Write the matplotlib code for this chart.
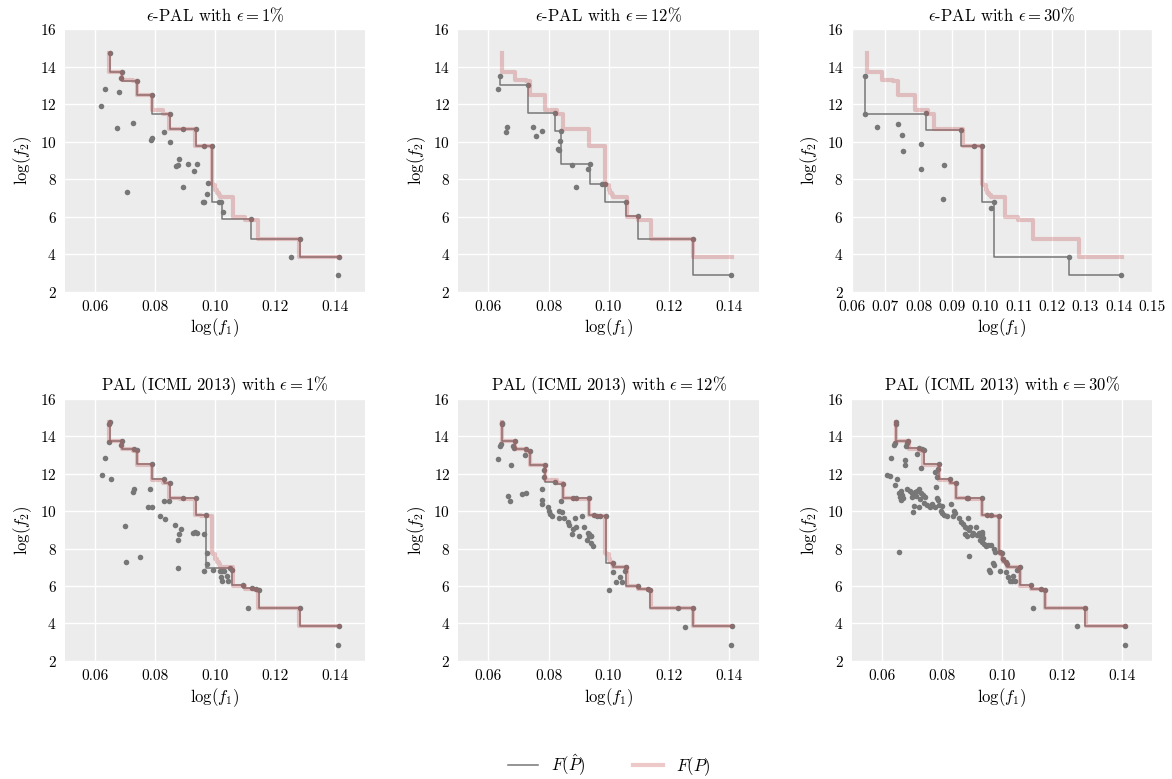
import matplotlib
matplotlib.use("Agg")
import matplotlib.pyplot as plt
from matplotlib.lines import Line2D

plt.rcParams['font.family'] = 'serif'
plt.rcParams['font.serif'] = ['cmr10', 'DejaVu Serif']
plt.rcParams['mathtext.fontset'] = 'cm'
plt.rcParams['axes.formatter.use_mathtext'] = True

# ---------------- data ----------------
# true Pareto front F(P)
true_x = [0.0646, 0.0690, 0.0725, 0.0738, 0.0789, 0.0827, 0.0847, 0.0882, 0.0934, 0.0952, 0.0965,
          0.0989, 0.0992, 0.1001, 0.1005, 0.1012, 0.1016, 0.1060, 0.1098, 0.1131, 0.1142, 0.1230,
          0.1280, 0.1411]
true_y = [14.75, 13.72, 13.30, 13.22, 12.48, 11.67, 11.47, 10.67, 10.66, 9.77, 9.76, 9.75, 7.77,
          7.72, 7.42, 7.28, 7.16, 7.03, 6.00, 5.83, 5.80, 4.83, 4.81, 3.86]

# eps-PAL eps=1%
s1_x = [0.0650, 0.0691, 0.0685, 0.0740, 0.0791, 0.0850, 0.0892, 0.0936, 0.0964, 0.0989, 0.1013,
        0.1018, 0.1025, 0.1120, 0.1281, 0.1411, 0.0634, 0.0679, 0.0620, 0.0673, 0.0727, 0.0787,
        0.0791, 0.0830, 0.0848, 0.0881, 0.0877, 0.0870, 0.0908, 0.0938, 0.0929, 0.0894, 0.0977,
        0.0973, 0.0958, 0.0963, 0.0705, 0.1253, 0.1409]
s1_y = [14.72, 13.72, 13.38, 13.24, 12.48, 11.48, 10.68, 10.68, 9.75, 9.75, 6.77, 6.77, 6.24, 5.87,
        4.83, 3.86, 12.82, 12.66, 11.92, 10.75, 11.00, 10.12, 10.21, 10.53, 9.98, 9.08, 8.74, 8.69,
        8.83, 8.83, 8.44, 7.60, 7.81, 7.21, 6.80, 6.77, 7.30, 3.84, 2.87]
e1_x = [0.0650, 0.0691, 0.0740, 0.0791, 0.0850, 0.0892, 0.0936, 0.0964, 0.0989, 0.1022, 0.1120,
        0.1281, 0.1411]
e1_y = [14.72, 13.72, 13.24, 12.48, 11.48, 10.68, 10.68, 9.75, 9.75, 6.77, 5.87, 4.83, 3.86]

# eps-PAL eps=12%
s2_x = [0.0640, 0.0633, 0.0733, 0.0661, 0.0660, 0.0749, 0.0760, 0.0777, 0.0823, 0.0843, 0.0838,
        0.0833, 0.0836, 0.0879, 0.0937, 0.0930, 0.0891, 0.0978, 0.0989, 0.1058, 0.1098, 0.1281,
        0.1409]
s2_y = [13.51, 12.82, 13.01, 10.81, 10.54, 10.81, 10.30, 10.58, 11.53, 10.56, 10.03, 9.63, 9.56,
        8.76, 8.83, 8.53, 7.60, 7.74, 7.77, 6.80, 6.03, 4.83, 2.87]
e2_x = [0.0640, 0.0733, 0.0823, 0.0843, 0.0937, 0.0989, 0.1058, 0.1098, 0.1281, 0.1409]
e2_y = [13.51, 13.01, 11.53, 10.56, 8.83, 7.77, 6.80, 6.03, 4.83, 2.87]

# eps-PAL eps=30%
s3_x = [0.0640, 0.0640, 0.0677, 0.0739, 0.0749, 0.0752, 0.0822, 0.0807, 0.0806, 0.0877, 0.0872,
        0.0927, 0.0966, 0.0989, 0.1025, 0.1016, 0.1252, 0.1406]
s3_y = [13.51, 11.46, 10.77, 10.95, 10.38, 9.52, 11.53, 9.87, 8.57, 8.78, 6.95, 10.63, 9.77, 9.77,
        6.79, 6.45, 3.84, 2.87]
e3_x = [0.0640, 0.0822, 0.0927, 0.0989, 0.1025, 0.1252, 0.1406]
e3_y = [13.51, 11.50, 10.63, 9.77, 6.79, 3.84, 2.87]

# PAL eps=1%
s4_x = [0.0650, 0.0648, 0.0647, 0.0691, 0.0685, 0.0729, 0.0741, 0.0634, 0.0791, 0.0622, 0.0654,
        0.0831, 0.0850, 0.0729, 0.0727, 0.0782, 0.0830, 0.0845, 0.0892, 0.0936, 0.0776, 0.0790,
        0.0815, 0.0834, 0.0699, 0.0865, 0.0885, 0.0881, 0.0876, 0.0927, 0.0932, 0.0939, 0.0962,
        0.0969, 0.0974, 0.0973, 0.0751, 0.0703, 0.0875, 0.0962, 0.0993, 0.1015, 0.1022, 0.1028,
        0.1048, 0.1057, 0.1018, 0.1024, 0.1039, 0.1044, 0.1092, 0.1121, 0.1136, 0.1147, 0.1108,
        0.1281, 0.1411, 0.1409]
s4_y = [14.74, 14.64, 13.68, 13.72, 13.54, 13.33, 13.26, 12.83, 12.50, 11.90, 11.70, 11.69, 11.49,
        11.19, 11.01, 11.17, 10.54, 10.56, 10.70, 10.70, 10.24, 10.20, 9.71, 9.58, 9.19, 9.28, 9.04,
        8.77, 8.47, 8.82, 8.86, 8.84, 8.77, 9.78, 7.78, 7.20, 7.57, 7.30, 6.97, 6.79, 6.83, 6.81,
        6.81, 6.81, 6.97, 6.83, 6.47, 6.24, 6.53, 6.24, 6.03, 5.89, 5.82, 5.78, 4.85, 4.83, 3.86,
        2.85]
e4_x = [0.0650, 0.0691, 0.0729, 0.0741, 0.0791, 0.0831, 0.0850, 0.0892, 0.0936, 0.0969, 0.1048,
        0.1057, 0.1092, 0.1121, 0.1136, 0.1147, 0.1281, 0.1411]
e4_y = [14.74, 13.72, 13.33, 13.26, 12.50, 11.69, 11.49, 10.70, 10.70, 9.78, 6.97, 6.83, 6.03, 5.89,
        5.82, 5.78, 4.83, 3.86]

# PAL eps=12%
s5_x = [0.0646, 0.0645, 0.0642, 0.0640, 0.0688, 0.0683, 0.0686, 0.0633, 0.0675, 0.0726, 0.0738,
        0.0721, 0.0788, 0.0786, 0.0785, 0.0778, 0.0822, 0.0848, 0.0665, 0.0671, 0.0711, 0.0725,
        0.0777, 0.0778, 0.0843, 0.0880, 0.0890, 0.0935, 0.0798, 0.0800, 0.0805, 0.0812, 0.0836,
        0.0846, 0.0835, 0.0851, 0.0887, 0.0910, 0.0865, 0.0869, 0.0882, 0.0893, 0.0917, 0.0879,
        0.0901, 0.0930, 0.0935, 0.0941, 0.0935, 0.0941, 0.0929, 0.0943, 0.0948, 0.0952, 0.0963,
        0.0971, 0.0990, 0.1015, 0.1015, 0.1024, 0.1044, 0.1038, 0.1054, 0.1059, 0.1002, 0.1098,
        0.1131, 0.1139, 0.1231, 0.1280, 0.1255, 0.1411, 0.1409]
s5_y = [14.71, 14.62, 13.59, 13.47, 13.72, 13.47, 13.37, 12.80, 12.43, 13.31, 13.22, 12.99, 12.47,
        12.18, 11.83, 11.16, 11.53, 11.44, 10.81, 10.54, 10.91, 10.98, 10.60, 10.37, 10.54, 10.67,
        10.67, 10.67, 10.24, 9.98, 9.86, 9.71, 10.01, 9.93, 9.64, 9.63, 9.64, 9.71, 9.40, 9.27, 9.04,
        9.13, 9.13, 8.76, 8.69, 8.83, 8.78, 8.69, 8.66, 8.66, 8.43, 8.30, 8.16, 9.77, 9.75, 9.75,
        9.73, 7.25, 6.77, 6.22, 6.22, 6.50, 6.80, 7.02, 5.76, 6.01, 5.83, 5.80, 4.83, 4.81, 3.81,
        3.86, 2.84]
e5_x = [0.0646, 0.0688, 0.0726, 0.0738, 0.0788, 0.0822, 0.0848, 0.0880, 0.0890, 0.0935, 0.0952,
        0.0963, 0.0971, 0.0990, 0.1015, 0.1059, 0.1098, 0.1131, 0.1139, 0.1231, 0.1280, 0.1411]
e5_y = [14.71, 13.72, 13.31, 13.22, 12.47, 11.53, 11.44, 10.67, 10.67, 10.67, 9.77, 9.75, 9.75,
        9.73, 7.25, 7.02, 6.01, 5.83, 5.80, 4.83, 4.81, 3.86]

# PAL eps=30%
s6_x = [0.0648, 0.0647, 0.0644, 0.0641, 0.0688, 0.0685, 0.0682, 0.0723, 0.0733, 0.0739, 0.0717,
        0.0731, 0.0789, 0.0786, 0.0777, 0.0783, 0.0827, 0.0847, 0.0882, 0.0888, 0.0932, 0.0951,
        0.0964, 0.0989, 0.0992, 0.1001, 0.1005, 0.1012, 0.1016, 0.1060, 0.1097, 0.1130, 0.1144,
        0.1278, 0.1411, 0.1409,
        0.0632, 0.0677, 0.0678, 0.0616, 0.0627, 0.0644, 0.0652, 0.0657, 0.0663, 0.0668, 0.0660,
        0.0671, 0.0665, 0.0685, 0.0693, 0.0701, 0.0709, 0.0717, 0.0725, 0.0731, 0.0737, 0.0744,
        0.0699, 0.0714, 0.0726, 0.0706, 0.0703, 0.0724, 0.0742, 0.0750, 0.0759, 0.0767, 0.0778,
        0.0781, 0.0783, 0.0787, 0.0792, 0.0800, 0.0797, 0.0802, 0.0808, 0.0816, 0.0832, 0.0840,
        0.0845, 0.0836, 0.0858, 0.0864, 0.0871, 0.0877, 0.0882, 0.0888, 0.0895, 0.0891, 0.0878,
        0.0885, 0.0899, 0.0904, 0.0915, 0.0917, 0.0924, 0.0932, 0.0935, 0.0929, 0.0937, 0.0926,
        0.0933, 0.0940, 0.0948, 0.0955, 0.0964, 0.0975, 0.0978, 0.0970, 0.0973, 0.0891, 0.0956,
        0.0961, 0.0992, 0.1014, 0.1019, 0.1027, 0.1034, 0.1038, 0.1045, 0.1050, 0.0657, 0.1105,
        0.1251]
s6_y = [14.74, 14.64, 13.63, 13.54, 13.75, 13.63, 13.49, 13.35, 13.31, 13.26, 13.05, 12.32, 12.50,
        12.22, 12.07, 11.83, 11.69, 11.49, 10.70, 10.70, 10.70, 9.79, 9.78, 9.74, 7.80, 7.75, 7.45,
        7.30, 7.18, 7.04, 6.03, 5.84, 5.80, 4.83, 3.86, 2.85,
        12.83, 12.71, 12.48, 11.93, 11.86, 11.39, 11.69, 10.94, 11.07, 10.84, 10.77, 10.70, 10.59,
        11.19, 11.08, 10.94, 11.01, 11.08, 11.19, 10.98, 10.87, 10.77, 10.77, 10.80, 10.63, 10.27,
        9.97, 10.24, 10.41, 10.33, 10.24, 10.36, 10.24, 11.30, 10.71, 10.57, 10.31, 10.27, 10.01,
        9.88, 9.80, 9.71, 10.36, 10.01, 9.92, 9.71, 9.62, 9.44, 9.30, 9.16, 9.07, 9.65, 9.16, 9.00,
        8.79, 8.68, 8.72, 8.82, 9.16, 8.72, 8.82, 8.75, 8.86, 8.61, 8.58, 8.47, 8.33, 8.24, 8.15,
        8.19, 8.21, 7.98, 7.80, 7.23, 7.14, 7.59, 6.83, 6.77, 6.79, 6.77, 6.47, 6.24, 6.24, 6.53,
        6.24, 6.83, 7.82, 4.85, 3.84]
e6_x = [0.0648, 0.0688, 0.0723, 0.0733, 0.0739, 0.0789, 0.0827, 0.0847, 0.0882, 0.0888, 0.0932,
        0.0951, 0.0964, 0.0989, 0.0992, 0.1001, 0.1005, 0.1012, 0.1016, 0.1060, 0.1097, 0.1130,
        0.1144, 0.1278, 0.1411]
e6_y = [14.74, 13.75, 13.35, 13.31, 13.26, 12.50, 11.69, 11.49, 10.70, 10.70, 10.70, 9.79, 9.78,
        9.74, 7.80, 7.75, 7.45, 7.30, 7.18, 7.04, 6.03, 5.84, 5.80, 4.83, 3.86]

titles = [r'$\epsilon$-PAL with $\epsilon = 1\%$', r'$\epsilon$-PAL with $\epsilon = 12\%$',
          r'$\epsilon$-PAL with $\epsilon = 30\%$', r'PAL (ICML 2013) with $\epsilon = 1\%$',
          r'PAL (ICML 2013) with $\epsilon = 12\%$', r'PAL (ICML 2013) with $\epsilon = 30\%$']
samples = [(s1_x, s1_y), (s2_x, s2_y), (s3_x, s3_y), (s4_x, s4_y), (s5_x, s5_y), (s6_x, s6_y)]
estimated = [(e1_x, e1_y), (e2_x, e2_y), (e3_x, e3_y), (e4_x, e4_y), (e5_x, e5_y), (e6_x, e6_y)]

# ---------------- plot ----------------
BG = '#ECECEC'
GRAY = '#777777'
PINK = '#C44E52'

fig, axes = plt.subplots(2, 3, figsize=(11.72, 7.79), dpi=100)
fig.subplots_adjust(left=0.0555, right=0.983, bottom=0.1515, top=0.9624, wspace=0.31, hspace=0.407)

for i, ax in enumerate(axes.flat):
    ax.set_facecolor(BG)
    for sp in ax.spines.values():
        sp.set_visible(False)
    ax.grid(True, color='white', linewidth=1.0)
    ax.set_axisbelow(True)
    sx, sy = samples[i]
    ex, ey = estimated[i]
    ax.scatter(sx, sy, s=16, color=GRAY, linewidths=0, zorder=2)
    ax.step(ex, ey, where='pre', color=GRAY, linewidth=1.1, zorder=3)
    ax.step(true_x, true_y, where='pre', color=PINK, alpha=0.3, linewidth=3.0, zorder=4)
    ax.set_ylim(2, 16)
    ax.set_yticks([2, 4, 6, 8, 10, 12, 14, 16])
    if i == 2:
        ax.set_xlim(0.06, 0.15)
        ax.set_xticks([0.06, 0.07, 0.08, 0.09, 0.10, 0.11, 0.12, 0.13, 0.14, 0.15])
    else:
        ax.set_xlim(0.05, 0.15)
        ax.set_xticks([0.06, 0.08, 0.10, 0.12, 0.14])
    ax.xaxis.set_major_formatter(matplotlib.ticker.FormatStrFormatter('%.2f'))
    ax.tick_params(length=0, labelsize=11, colors='black', pad=6)
    ax.set_title(titles[i], fontsize=12, pad=6)
    ax.set_xlabel(r'$\log(f_1)$', fontsize=12, labelpad=2)
    ax.set_ylabel(r'$\log(f_2)$', fontsize=12, labelpad=4)

handles = [Line2D([], [], color=GRAY, linewidth=1.1),
           Line2D([], [], color=PINK, alpha=0.3, linewidth=3.0)]
fig.legend(handles, [r'$F(\hat{P})$', r'$F(P)$'], loc='center', bbox_to_anchor=(0.52, 0.018),
           ncol=2, frameon=False, fontsize=12, handlelength=1.8, columnspacing=2.8)

fig.savefig('out.png', dpi=100, facecolor='white')
